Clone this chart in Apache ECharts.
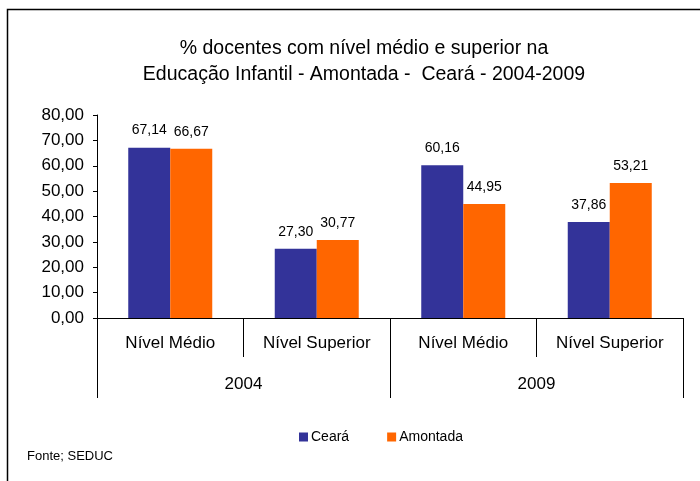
<!DOCTYPE html>
<html>
<head>
<meta charset="utf-8">
<script src="https://cdn.jsdelivr.net/npm/echarts@6/dist/echarts.min.js"></script>
<style>
  html, body { margin: 0; padding: 0; background: #fff; }
  #chart { width: 700px; height: 481px; }
</style>
</head>
<body>
<div id="chart"></div>
<script>
const levels = ['Nível Médio', 'Nível Superior', 'Nível Médio', 'Nível Superior'];
const years = ['2004', '2009'];
const ceara = [67.14, 27.30, 60.16, 37.86];
const amontada = [66.67, 30.77, 44.95, 53.21];
const yTicks = [0, 10, 20, 30, 40, 50, 60, 70, 80];

const fmt = (v) => v.toFixed(2).replace('.', ',');
const font = 'Liberation Sans, Arial, sans-serif';

const chart = echarts.init(document.getElementById('chart'));

const option = {
  animation: false,
  color: ['#333399', '#FF6600'],
  textStyle: { fontFamily: font, color: '#000' },
  title: {
    text: '% docentes com nível médio e superior na\nEducação Infantil - Amontada -  Ceará - 2004-2009',
    left: 359,
    top: 31,
    textAlign: 'center',
    textStyle: { fontFamily: font, fontSize: 19.5, fontWeight: 'normal', color: '#000', lineHeight: 26 }
  },
  graphic: [
    {
      type: 'rect',
      shape: { x: 7.5, y: 9.5, width: 800, height: 600 },
      style: { fill: 'none', stroke: '#000', lineWidth: 1.5 },
      silent: true
    },
    {
      type: 'text',
      left: 27,
      top: 450,
      style: { text: 'Fonte; SEDUC', fontFamily: font, fontSize: 13, fill: '#000' }
    }
  ],
  legend: {
    data: ['Ceará', 'Amontada'],
    left: 294,
    top: 425,
    itemWidth: 9,
    itemHeight: 9,
    itemGap: 38,
    icon: 'rect',
    textStyle: { fontFamily: font, fontSize: 14, color: '#000', padding: [0, 0, 0, -2] }
  },
  grid: { left: 97, right: 17, top: 115, bottom: 163 },
  xAxis: [
    {
      type: 'category',
      data: levels,
      position: 'bottom',
      axisLine: { lineStyle: { color: '#000', width: 1 } },
      axisTick: { show: true, interval: 0, length: 39, lineStyle: { color: '#000' } },
      axisLabel: { interval: 0, margin: 17, fontFamily: font, fontSize: 17, color: '#000' }
    },
    {
      type: 'category',
      data: years,
      position: 'bottom',
      axisLine: { show: false },
      axisTick: { show: true, interval: 0, length: 80, lineStyle: { color: '#000' } },
      axisLabel: { interval: 0, margin: 58, fontFamily: font, fontSize: 17, color: '#000' }
    }
  ],
  yAxis: {
    type: 'value',
    min: yTicks[0],
    max: yTicks[yTicks.length - 1],
    interval: 10,
    axisLine: { show: true, lineStyle: { color: '#000', width: 1 } },
    axisTick: { show: true, length: 4, lineStyle: { color: '#000' } },
    splitLine: { show: false },
    axisLabel: { margin: 13, fontFamily: font, fontSize: 17, color: '#000', formatter: fmt }
  },
  series: [
    {
      name: 'Ceará',
      type: 'bar',
      xAxisIndex: 0,
      data: ceara,
      barWidth: 42,
      barGap: '0%',
      label: { show: true, position: 'top', distance: 10, fontFamily: font, fontSize: 14, color: '#000', formatter: (p) => fmt(p.value) }
    },
    {
      name: 'Amontada',
      type: 'bar',
      xAxisIndex: 0,
      data: amontada,
      barWidth: 42,
      barGap: '0%',
      label: { show: true, position: 'top', distance: 10, fontFamily: font, fontSize: 14, color: '#000', formatter: (p) => fmt(p.value) }
    }
  ]
};

chart.setOption(option);
window.addEventListener('resize', () => chart.resize());
</script>
</body>
</html>
